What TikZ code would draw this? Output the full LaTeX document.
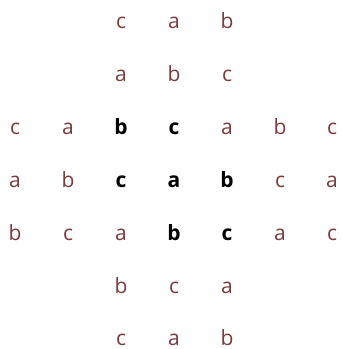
\documentclass[tikz,border=0pt]{standalone}
\usepackage{fontspec}
\setmainfont{Open Sans}
\definecolor{lt}{HTML}{7B3B3B}
\begin{document}
\begin{tikzpicture}[x=1pt,y=-1pt,
  lt/.style={anchor=base,inner sep=0pt,text depth=0pt,text=lt,font=\fontsize{21}{24}\selectfont},
  bk/.style={anchor=base,inner sep=0pt,text depth=0pt,text=black,font=\fontsize{21}{24}\selectfont\bfseries}]
\useasboundingbox (0,0) rectangle (341,349);
\def\cA{15}\def\cB{68}\def\cC{121}\def\cD{174}\def\cE{227}\def\cF{280}\def\cG{332}
\def\rA{28.5}\def\rB{81.5}\def\rC{134.5}\def\rD{187.5}\def\rE{240.5}\def\rF{293.5}\def\rG{345.5}
% row 1
\node[lt] (n13) at (\cC,\rA) {c};
\node[lt] (n14) at (\cD,\rA) {a};
\node[lt] (n15) at (\cE,\rA) {b};
% row 2
\node[lt] (n23) at (\cC,\rB) {a};
\node[lt] (n24) at (\cD,\rB) {b};
\node[lt] (n25) at (\cE,\rB) {c};
% row 3
\node[lt] (n31) at (\cA,\rC) {c};
\node[lt] (n32) at (\cB,\rC) {a};
\node[bk] (n33) at (\cC,\rC) {b};
\node[bk] (n34) at (\cD,\rC) {c};
\node[lt] (n35) at (\cE,\rC) {a};
\node[lt] (n36) at (\cF,\rC) {b};
\node[lt] (n37) at (\cG,\rC) {c};
% row 4
\node[lt] (n41) at (\cA,\rD) {a};
\node[lt] (n42) at (\cB,\rD) {b};
\node[bk] (n43) at (\cC,\rD) {c};
\node[bk] (n44) at (\cD,\rD) {a};
\node[bk] (n45) at (\cE,\rD) {b};
\node[lt] (n46) at (\cF,\rD) {c};
\node[lt] (n47) at (\cG,\rD) {a};
% row 5
\node[lt] (n51) at (\cA,\rE) {b};
\node[lt] (n52) at (\cB,\rE) {c};
\node[lt] (n53) at (\cC,\rE) {a};
\node[bk] (n54) at (\cD,\rE) {b};
\node[bk] (n55) at (\cE,\rE) {c};
\node[lt] (n56) at (\cF,\rE) {a};
\node[lt] (n57) at (\cG,\rE) {c};
% row 6
\node[lt] (n63) at (\cC,\rF) {b};
\node[lt] (n64) at (\cD,\rF) {c};
\node[lt] (n65) at (\cE,\rF) {a};
% row 7
\node[lt] (n73) at (\cC,\rG) {c};
\node[lt] (n74) at (\cD,\rG) {a};
\node[lt] (n75) at (\cE,\rG) {b};
\end{tikzpicture}
\end{document}
